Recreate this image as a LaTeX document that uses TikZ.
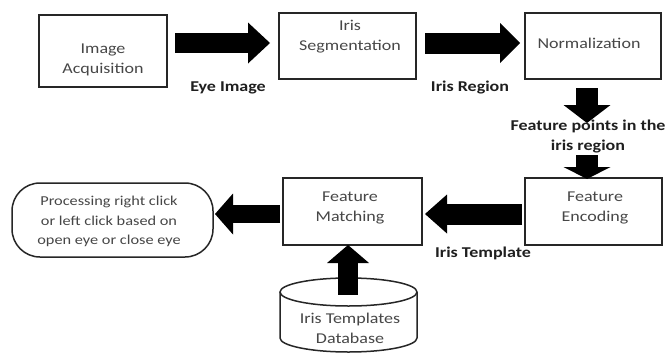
\documentclass[tikz,border=0pt]{standalone}
\usepackage{fontspec}
\setmainfont{Carlito}[FakeStretch=1.2]
\usetikzlibrary{arrows.meta,calc}

\tikzset{
  box/.style={draw=black!85, line width=1.5pt, fill=white, inner sep=0pt, outer sep=0pt},
  boxtext/.style={align=center, text=black!72, font=\fontsize{15}{20}\selectfont, inner sep=0pt},
  flowlabel/.style={align=center, text=black!88, font=\bfseries\fontsize{15}{20}\selectfont, inner sep=0pt},
  blk/.style n args={3}{line width=#1, black,
    -{Triangle[width=#2, length=#3, line width=0pt]}},
}

\begin{document}
\begin{tikzpicture}[x=1pt, y=-1pt]
  \useasboundingbox[fill=white] (0,0) rectangle (666,356);

  % process boxes
  \node[box, minimum width=128, minimum height=72] (acq)   at (103,51)     {};
  \node[box, minimum width=137, minimum height=66] (seg)   at (347.5,46)   {};
  \node[box, minimum width=136, minimum height=66] (norm)  at (593,46)     {};
  \node[box, minimum width=137, minimum height=67] (enc)   at (593.5,211.5){};
  \node[box, minimum width=139, minimum height=67] (match) at (352.5,211.5){};
  \node[box, rounded corners=28pt, minimum width=201, minimum height=74] (proc) at (112.5,220) {};

  % database cylinder
  \node[inner sep=0pt, minimum width=137, minimum height=74] (db) at (348.5,315) {};
  \draw[black!85, line width=1.5pt, fill=white]
    (280,292) -- (280,338)
    .. controls (280,345.7) and (310.7,352) .. (348.5,352)
    .. controls (386.3,352) and (417,345.7) .. (417,338)
    -- (417,292);
  \draw[black!85, line width=1.5pt] (348.5,292) ellipse [x radius=68.5, y radius=14];

  % texts inside the shapes
  \node[boxtext] (acqT)   at (103,60)    {Image\\Acquisition};
  \node[boxtext] (segT)   at (350,37)    {Iris\\Segmentation};
  \node[boxtext] (normT)  at (589,43)    {Normalization};
  \node[boxtext] (encT)   at (595,208)   {Feature\\Encoding};
  \node[boxtext] (matchT) at (350,208)   {Feature\\Matching};
  \node[boxtext, font=\fontsize{13.6}{19.5}\selectfont] (procT) at (109,221.5)
    {Processing right click\\or left click based on\\open eye or close eye};
  \node[boxtext] (dbT)    at (350,328)   {Iris Templates\\Database};

  % block arrows between the stages
  \draw[blk={20pt}{41pt}{22pt}, shorten <=8pt, shorten >=9pt]
    (acq.east |- 0,43) -- (seg.west |- 0,43);
  \draw[blk={21pt}{40pt}{20pt}, shorten <=9pt, shorten >=5pt]
    (seg.east |- 0,43) -- (norm.west |- 0,43);

  \coordinate (d1end) at (587,123);
  \coordinate (d2start) at (587,155);
  \draw[blk={22pt}{47pt}{18pt}, shorten <=9pt] (norm.south -| 587,0) -- (d1end);
  \draw[blk={22pt}{47pt}{12pt}, shorten >=-1pt] (d2start) -- (enc.north -| 587,0);

  \draw[blk={21pt}{39pt}{22pt}, shorten <=3pt, shorten >=3pt]
    (enc.west |- 0,214) -- (match.east |- 0,214);
  \draw[blk={18pt}{41pt}{18pt}, shorten <=3pt, shorten >=2pt]
    (match.west |- 0,214) -- (proc.east |- 0,214);
  \draw[blk={20pt}{42pt}{18pt}, shorten <=-17pt]
    (db.north -| 348,0) -- (match.south -| 348,0);

  % flow labels
  \node[flowlabel] (lblEye)   at (228,88)  {Eye Image};
  \node[flowlabel] (lblIris)  at (470,88)  {Iris Region};
  \node[flowlabel] (lblFeat)  at (588,137) {Feature points in the\\iris region};
  \node[flowlabel] (lblTempl) at (483,253) {Iris Template};
\end{tikzpicture}
\end{document}
